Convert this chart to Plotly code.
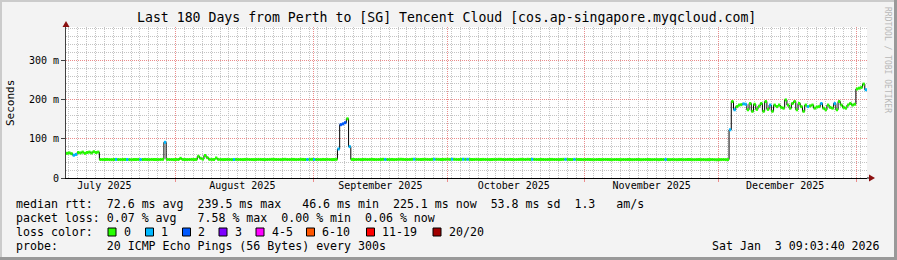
import plotly.graph_objects as go
import pandas as pd

# ---------------- data ----------------
START = "2025-07-07 09:03:40"
END = "2026-01-03 09:03:40"
STEP_HOURS = 12

# median rtt (ms), one value per 12 h bin
MEDIAN_MS = [
    63, 64, 62, 58, 60, 65, 64, 66, 63, 65, 66, 64,
    67, 65, 66, 47.2, 47.0, 47.1, 47.3, 47.0, 46.9, 47.2, 47.4, 47.1,
    47.0, 47.2, 47.3, 47.1, 47.0, 46.8, 47.2, 47.1, 47.3, 47.0, 47.2, 47.4,
    47.1, 47.0, 47.3, 47.2, 47.1, 47.0, 47.3, 47.5, 91.0, 47.4, 47.2, 47.1,
    47.0, 47.3, 47.2, 50.1, 47.3, 47.1, 47.0, 47.2, 47.4, 47.1, 47.3, 55.2,
    50.3, 48.1, 57.4, 52.0, 47.6, 47.3, 47.1, 51.0, 47.4, 47.2, 47.0, 47.1,
    47.3, 47.2, 47.0, 47.1, 47.4, 47.2, 47.1, 47.0, 47.3, 47.5, 47.2, 47.1,
    47.0, 47.2, 47.4, 47.3, 47.1, 47.0, 47.2, 47.3, 47.5, 47.4, 47.2, 47.1,
    47.0, 47.3, 47.6, 47.2, 47.1, 47.4, 47.3, 47.0, 47.2, 47.5, 47.3, 47.1,
    47.2, 47.4, 47.6, 47.3, 47.2, 47.1, 47.0, 47.3, 47.2, 47.4, 47.1, 47.0,
    47.2, 47.5, 74.0, 136.0, 138.0, 141.0, 151.0, 80.0, 47.4, 47.2, 47.1, 47.3,
    47.0, 47.2, 47.4, 47.1, 47.3, 47.5, 47.2, 47.0, 47.1, 47.3, 47.6, 47.4,
    47.2, 47.1, 47.3, 47.0, 47.2, 47.5, 47.7, 47.4, 47.2, 47.1, 47.3, 47.6,
    47.8, 47.5, 47.3, 47.2, 47.4, 47.6, 47.3, 47.1, 47.5, 47.8, 47.6, 47.4,
    47.2, 47.3, 47.5, 47.7, 47.4, 47.9, 47.6, 47.3, 47.2, 47.5, 47.8, 47.6,
    47.7, 47.4, 47.2, 47.3, 47.5, 47.1, 47.2, 47.4, 47.3, 47.1, 47.0, 47.2,
    47.4, 47.3, 47.6, 47.5, 47.2, 47.1, 47.3, 47.4, 47.2, 47.0, 47.1, 47.3,
    47.5, 47.4, 47.2, 47.6, 47.3, 47.7, 47.4, 47.2, 47.1, 47.3, 47.2, 47.0,
    47.1, 47.3, 47.4, 47.2, 47.1, 47.0, 47.3, 47.5, 47.6, 47.4, 47.2, 47.1,
    47.5, 47.3, 47.2, 47.1, 47.0, 47.2, 47.3, 47.1, 47.0, 46.9, 47.1, 47.2,
    47.0, 47.1, 47.3, 47.2, 47.0, 46.8, 47.1, 47.2, 47.0, 46.9, 47.1, 47.0,
    47.2, 47.1, 46.9, 47.0, 47.2, 47.1, 46.8, 47.0, 47.1, 47.2, 47.0, 46.9,
    47.1, 47.0, 46.8, 47.2, 47.1, 47.3, 47.0, 46.9, 47.1, 47.0, 46.8, 47.0,
    47.1, 46.9, 47.0, 47.2, 47.1, 46.9, 46.8, 47.0, 47.1, 46.9, 47.0, 46.7,
    46.9, 47.0, 47.1, 46.8, 46.6, 46.9, 47.0, 47.1, 46.9, 47.0, 123.0, 195.0,
    174, 182, 186, 187, 189, 188, 174, 190, 170, 188, 175, 183,
    190, 170, 195, 175, 186, 170, 186, 182, 186, 180, 178, 199,
    186, 178, 190, 195, 174, 190, 182, 170, 186, 182, 184, 186,
    178, 181, 182, 190, 178, 174, 186, 180, 178, 190, 174, 195,
    186, 180, 178, 186, 190, 186, 188, 227, 229, 231, 239.5, 225.1,
]

# lost pings (of 20) per bin
LOSS = [
    0, 0, 0, 1, 1, 0, 0, 0, 0, 0, 0, 0,
    0, 0, 0, 0, 0, 0, 0, 0, 0, 0, 1, 0,
    0, 0, 0, 1, 0, 0, 0, 0, 0, 1, 0, 0,
    0, 0, 0, 0, 0, 0, 0, 0, 1, 0, 0, 0,
    0, 0, 0, 0, 0, 0, 0, 0, 0, 0, 0, 0,
    0, 0, 0, 0, 0, 0, 0, 0, 0, 0, 0, 0,
    0, 0, 0, 1, 0, 0, 0, 0, 0, 0, 0, 0,
    0, 0, 0, 0, 0, 0, 0, 0, 0, 0, 0, 0,
    0, 0, 0, 0, 0, 0, 0, 0, 0, 0, 0, 0,
    1, 0, 0, 1, 0, 0, 0, 0, 0, 0, 0, 0,
    0, 0, 1, 2, 2, 2, 0, 1, 0, 0, 0, 0,
    0, 0, 0, 0, 0, 0, 0, 0, 0, 0, 0, 1,
    0, 0, 0, 0, 0, 0, 0, 0, 0, 0, 0, 0,
    1, 0, 0, 0, 0, 0, 0, 0, 0, 1, 0, 0,
    0, 0, 0, 0, 0, 1, 0, 0, 0, 0, 1, 0,
    1, 0, 0, 0, 0, 0, 0, 0, 0, 0, 0, 0,
    0, 0, 0, 0, 0, 0, 0, 0, 0, 0, 0, 0,
    0, 0, 0, 0, 0, 1, 0, 0, 0, 0, 0, 0,
    0, 0, 0, 0, 0, 0, 0, 0, 1, 0, 0, 0,
    1, 0, 0, 0, 0, 0, 0, 0, 0, 0, 0, 0,
    0, 0, 0, 0, 0, 0, 0, 0, 0, 0, 0, 0,
    0, 0, 0, 0, 0, 0, 0, 0, 0, 0, 0, 0,
    0, 0, 0, 0, 0, 1, 0, 0, 0, 0, 0, 0,
    0, 0, 0, 0, 0, 0, 0, 0, 0, 0, 0, 0,
    0, 0, 0, 0, 0, 0, 0, 0, 0, 0, 1, 0,
    1, 0, 0, 0, 1, 1, 0, 0, 0, 0, 0, 0,
    0, 0, 0, 0, 1, 0, 0, 0, 0, 0, 0, 0,
    0, 0, 0, 0, 0, 0, 0, 0, 0, 1, 0, 0,
    0, 0, 0, 1, 0, 0, 0, 0, 0, 1, 0, 0,
    0, 0, 0, 0, 0, 0, 0, 0, 0, 0, 0, 1,
]

LOSS_LABELS = ["0", "1", "2", "3", "4-5", "6-10", "11-19", "20/20"]
LOSS_COLORS = ["#26ff00", "#00b8ff", "#0059ff", "#7e00ff", "#ff00ff",
               "#ff5500", "#ff0000", "#a10000"]
LOSS_UPPER = [0, 1, 2, 3, 5, 10, 19, 20]

MONTH_STARTS = ["2025-08-01", "2025-09-01", "2025-10-01", "2025-11-01",
                "2025-12-01", "2026-01-01"]
MONTH_LABEL_POS = ["2025-07-16", "2025-08-16", "2025-09-16", "2025-10-16",
                   "2025-11-16", "2025-12-16"]
MONTH_LABELS = ["July 2025", "August 2025", "September 2025", "October 2025",
                "November 2025", "December 2025"]

Y_TICKS = [0, 100, 200, 300]
Y_TICK_TEXT = ["0", "100 m", "200 m", "300 m"]

TITLE = "Last 180 Days from Perth to [SG] Tencent Cloud [cos.ap-singapore.myqcloud.com]"
LINE_RTT = "median rtt:  72.6 ms avg  239.5 ms max   46.6 ms min  225.1 ms now  53.8 ms sd  1.3   am/s"
LINE_LOSS = "packet loss: 0.07 % avg   7.58 % max  0.00 % min  0.06 % now"
LINE_PROBE = "probe:       20 ICMP Echo Pings (56 Bytes) every 300s"
DATE_TEXT = "Sat Jan  3 09:03:40 2026"

# ---------------- geometry ----------------
W, H = 897, 260
L, R, T, B = 66, 30, 27, 82
PW, PH = W - L - R, H - T - B
MONO = "DejaVu Sans Mono"


def px(x):
    return (x - L) / PW


def py(y):
    return (H - B - y) / PH


start = pd.Timestamp(START)
step = pd.Timedelta(hours=STEP_HOURS)
t0 = [start + step * i for i in range(len(MEDIAN_MS))]
t1 = [t + step for t in t0]


def bucket(n):
    for k, up in enumerate(LOSS_UPPER):
        if n <= up:
            return k
    return len(LOSS_UPPER) - 1


fig = go.Figure()

# thin black median line (step)
fig.add_trace(go.Scatter(
    x=t0 + [t1[-1]], y=MEDIAN_MS + [MEDIAN_MS[-1]], mode="lines",
    line=dict(color="#000000", width=1, shape="hv"),
    hoverinfo="skip", showlegend=False))

# loss-coloured median segments
for k, col in enumerate(LOSS_COLORS):
    xs, ys = [], []
    for a, b, v, n in zip(t0, t1, MEDIAN_MS, LOSS):
        if bucket(n) == k:
            xs += [a, b, None]
            ys += [v, v, None]
    if xs:
        fig.add_trace(go.Scatter(
            x=xs, y=ys, mode="lines", line=dict(color=col, width=3),
            hoverinfo="skip", showlegend=False))

# dummy trace registering the label axis
fig.add_trace(go.Scatter(x=[START, END], y=[None, None], xaxis="x2",
                         mode="lines", showlegend=False, hoverinfo="skip"))

MGRID = "#eb8c8c"
GRID = "#c4c4c4"
DOT = "1px,1px"

fig.update_layout(
    width=W, height=H,
    margin=dict(l=L, r=R, t=T, b=B, pad=0),
    paper_bgcolor="#f3f3f3", plot_bgcolor="#ffffff",
    font=dict(family=MONO, size=10, color="#000000"),
    xaxis=dict(
        type="date", range=[START, END],
        tickmode="array", tickvals=MONTH_STARTS, ticktext=[""] * len(MONTH_STARTS),
        showgrid=True, gridcolor=MGRID, griddash=DOT, gridwidth=1,
        ticks="outside", ticklen=3, tickcolor=MGRID,
        showline=True, linecolor="#000000", linewidth=1,
        zeroline=False,
        minor=dict(tickmode="linear", tick0="2025-07-08", dtick=2 * 86400000,
                   showgrid=True, gridcolor=GRID, griddash=DOT, gridwidth=1,
                   ticks=""),
    ),
    xaxis2=dict(
        type="date", range=[START, END], overlaying="x", anchor="y", side="bottom",
        tickmode="array", tickvals=MONTH_LABEL_POS, ticktext=MONTH_LABELS,
        showgrid=False, showline=False, ticks="", zeroline=False,
        tickfont=dict(family=MONO, size=10, color="#000000"),
    ),
    yaxis=dict(
        range=[0, 385], tickmode="array", tickvals=Y_TICKS, ticktext=Y_TICK_TEXT,
        showgrid=True, gridcolor=MGRID, griddash=DOT, gridwidth=1,
        ticks="outside", ticklen=4, tickcolor="#404040",
        showline=True, linecolor="#404040", linewidth=1, zeroline=False,
        tickfont=dict(family=MONO, size=10, color="#000000"),
        minor=dict(tickmode="linear", tick0=0, dtick=20, showgrid=True,
                   gridcolor=GRID, griddash=DOT, gridwidth=1, ticks=""),
    ),
)

shapes = []
# 3D frame
shapes.append(dict(type="rect", xref="paper", yref="paper", x0=px(0), x1=px(W), y0=py(0), y1=py(2),
                   fillcolor="#cbcbcb", line=dict(width=0), layer="above"))
shapes.append(dict(type="rect", xref="paper", yref="paper", x0=px(0), x1=px(2), y0=py(0), y1=py(H),
                   fillcolor="#cbcbcb", line=dict(width=0), layer="above"))
shapes.append(dict(type="rect", xref="paper", yref="paper", x0=px(0), x1=px(W), y0=py(H - 3), y1=py(H),
                   fillcolor="#999999", line=dict(width=0), layer="above"))
shapes.append(dict(type="rect", xref="paper", yref="paper", x0=px(W - 3), x1=px(W), y0=py(0), y1=py(H),
                   fillcolor="#999999", line=dict(width=0), layer="above"))
# axis arrows
ARROW = "#8b1010"
shapes.append(dict(type="line", xref="paper", yref="paper", x0=px(L + PW), x1=px(L + PW + 3),
                   y0=py(H - B), y1=py(H - B), line=dict(color="#000000", width=1)))
shapes.append(dict(type="path", xref="paper", yref="paper",
                   path="M {} {} L {} {} L {} {} Z".format(px(L + PW + 2), py(H - B - 3.5), px(L + PW + 8), py(H - B),
                                                          px(L + PW + 2), py(H - B + 3.5)),
                   fillcolor=ARROW, line=dict(color=ARROW, width=0)))
shapes.append(dict(type="path", xref="paper", yref="paper",
                   path="M {} {} L {} {} L {} {} Z".format(px(L - 3.5), py(T), px(L), py(T - 6),
                                                          px(L + 3.5), py(T)),
                   fillcolor=ARROW, line=dict(color=ARROW, width=0)))

annotations = []


def text(x, y, s, size, xanchor="left", color="#000000", angle=0):
    annotations.append(dict(xref="paper", yref="paper", x=px(x), y=py(y), text=s,
                            showarrow=False, xanchor=xanchor, yanchor="middle",
                            textangle=angle, borderpad=0,
                            font=dict(family=MONO, size=size, color=color)))


text(446.5, 18, TITLE, 13.2, xanchor="center")
text(10, 103, "Seconds", 11, xanchor="center", angle=-90)
text(888, 60, "RRDTOOL / TOBI OETIKER", 8, xanchor="center", color="#b8b8b8", angle=90)
text(15, 204, LINE_RTT, 11.6)
text(15, 218, LINE_LOSS, 11.6)
text(15, 232, "loss color:", 11.6)
text(15, 246, LINE_PROBE, 11.6)
text(881, 246, DATE_TEXT, 11.6, xanchor="right")

BOX_X = [108, 145.5, 182.5, 219, 256, 306.5, 366.5, 433]
for bx, lab, col in zip(BOX_X, LOSS_LABELS, LOSS_COLORS):
    shapes.append(dict(type="rect", xref="paper", yref="paper", x0=px(bx), x1=px(bx + 8),
                       y0=py(228), y1=py(236), fillcolor=col,
                       line=dict(color="#000000", width=1), layer="above"))
    text(bx + 14.5, 232, lab, 11.6)

fig.update_layout(shapes=shapes, annotations=annotations)
fig.write_html("out.html")
